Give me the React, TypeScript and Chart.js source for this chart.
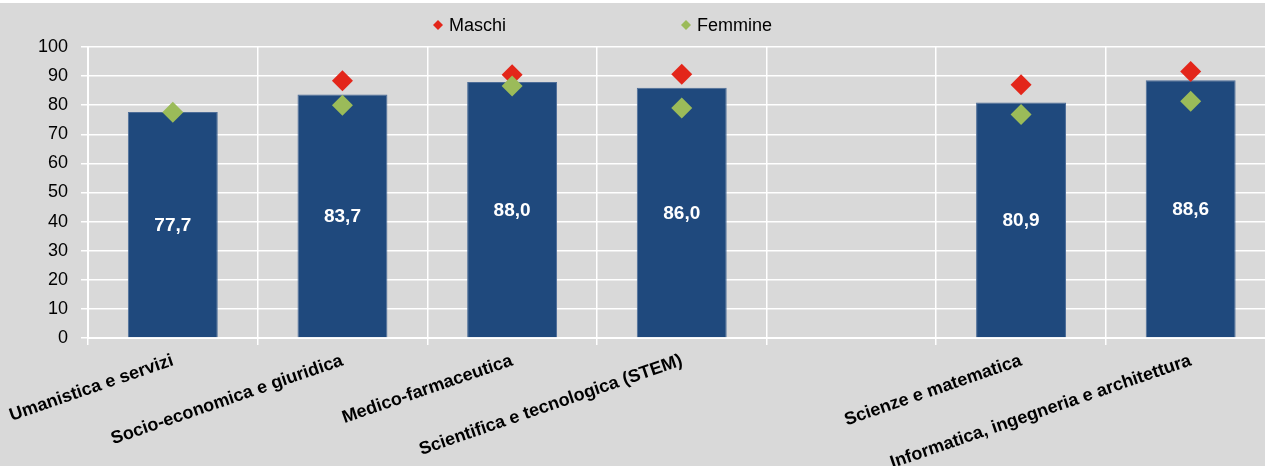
import React, { useEffect, useRef } from "react";
import { Chart, registerables } from "chart.js";

Chart.register(...registerables);

const categories: string[] = [
  "Umanistica e servizi",
  "Socio-economica e giuridica",
  "Medico-farmaceutica",
  "Scientifica e tecnologica (STEM)",
  "",
  "Scienze e matematica",
  "Informatica, ingegneria e architettura",
];
const totale: (number | null)[] = [77.7, 83.7, 88.0, 86.0, null, 80.9, 88.6];
const maschi: (number | null)[] = [null, 88.4, 90.5, 90.6, null, 87.0, 91.6];
const femmine: (number | null)[] = [77.6, 80.0, 86.6, 79.0, null, 76.8, 81.4];
const yTicks: number[] = [0, 10, 20, 30, 40, 50, 60, 70, 80, 90, 100];

const FONT = "'Liberation Sans', Arial, sans-serif";
const BAR = "#1f497d";
const RED = "#e3261a";
const GREEN = "#9bbb59";
const BG = "#d9d9d9";

const barLabelPlugin = {
  id: "barLabels",
  afterDatasetsDraw(chart: any) {
    const ctx = chart.ctx;
    chart.data.datasets.forEach((ds: any, i: number) => {
      if (ds.type !== "bar") return;
      const meta = chart.getDatasetMeta(i);
      meta.data.forEach((el: any, j: number) => {
        const v = ds.data[j];
        if (v == null) return;
        ctx.save();
        ctx.fillStyle = "#ffffff";
        ctx.font = `bold 19px ${FONT}`;
        ctx.textAlign = "center";
        ctx.textBaseline = "middle";
        ctx.fillText(v.toFixed(1).replace(".", ","), el.x, (el.y + el.base) / 2 + 1);
        ctx.restore();
      });
    });
  },
};

const legendPlugin = {
  id: "customLegend",
  afterDraw(chart: any) {
    const ctx = chart.ctx;
    const items = [
      { ds: chart.data.datasets[1], x: 438 },
      { ds: chart.data.datasets[2], x: 686 },
    ];
    const y = 22;
    items.forEach((it) => {
      ctx.save();
      ctx.fillStyle = it.ds.backgroundColor;
      const r = 5;
      ctx.beginPath();
      ctx.moveTo(it.x, y - r);
      ctx.lineTo(it.x + r, y);
      ctx.lineTo(it.x, y + r);
      ctx.lineTo(it.x - r, y);
      ctx.closePath();
      ctx.fill();
      ctx.fillStyle = "#000000";
      ctx.font = `18px ${FONT}`;
      ctx.textAlign = "left";
      ctx.textBaseline = "middle";
      ctx.fillText(it.ds.label, it.x + 11, y + 1);
      ctx.restore();
    });
  },
};

export default function App() {
  const ref = useRef<HTMLCanvasElement | null>(null);

  useEffect(() => {
    if (!ref.current) return;
    const chart = new Chart(ref.current, {
      type: "bar",
      data: {
        labels: categories,
        datasets: [
          {
            type: "bar",
            label: "Totale",
            data: totale,
            backgroundColor: BAR,
            borderColor: "#4d6d98",
            borderWidth: 1,
            barPercentage: 0.53,
            categoryPercentage: 1,
            order: 3,
          } as any,
          {
            type: "line",
            label: "Maschi",
            data: maschi,
            showLine: false,
            pointStyle: "rectRot",
            pointRadius: 10.5,
            pointHoverRadius: 10.5,
            backgroundColor: RED,
            borderColor: RED,
            borderWidth: 0,
            order: 2,
          } as any,
          {
            type: "line",
            label: "Femmine",
            data: femmine,
            showLine: false,
            pointStyle: "rectRot",
            pointRadius: 10.5,
            pointHoverRadius: 10.5,
            backgroundColor: GREEN,
            borderColor: GREEN,
            borderWidth: 0,
            order: 1,
          } as any,
        ],
      },
      options: {
        responsive: false,
        animation: false,
        devicePixelRatio: 1,
        layout: { padding: { top: 44, right: 4, left: 0, bottom: 0 } },
        plugins: {
          legend: { display: false },
          tooltip: { enabled: false },
        },
        scales: {
          x: {
            offset: true,
            grid: {
              offset: true,
              color: "#ffffff",
              lineWidth: 1.5,
              drawTicks: true,
              tickLength: 7,
              tickColor: "#ffffff",
            },
            border: { color: "#ffffff", width: 2 },
            ticks: {
              autoSkip: false,
              maxRotation: 19,
              minRotation: 19,
              padding: 5,
              color: "#000000",
              font: { family: FONT, size: 18, weight: "bold" },
            },
            afterFit: (axis: any) => {
              axis.height = 128;
              axis.paddingLeft = 0;
              axis.paddingRight = 0;
            },
          },
          y: {
            min: 0,
            max: 100,
            afterBuildTicks: (axis: any) => {
              axis.ticks = yTicks.map((v) => ({ value: v }));
            },
            grid: {
              color: "#ffffff",
              lineWidth: 1.5,
              tickLength: 7,
              tickColor: "#ffffff",
            },
            border: { color: "#ffffff", width: 2 },
            ticks: {
              padding: 13,
              color: "#000000",
              font: { family: FONT, size: 18 },
            },
            afterFit: (axis: any) => {
              axis.width = 88;
            },
          },
        },
      },
      plugins: [barLabelPlugin, legendPlugin],
    });
    return () => chart.destroy();
  }, []);

  return (
    <div
      style={{
        position: "fixed",
        left: 0,
        top: 0,
        width: 1265,
        height: 466,
        overflow: "hidden",
        background: "#ffffff",
      }}
    >
      <div style={{ position: "absolute", left: 0, top: 3, width: 1286, height: 463, background: BG }}>
        <canvas ref={ref} width={1286} height={463} style={{ display: "block" }} />
      </div>
    </div>
  );
}
